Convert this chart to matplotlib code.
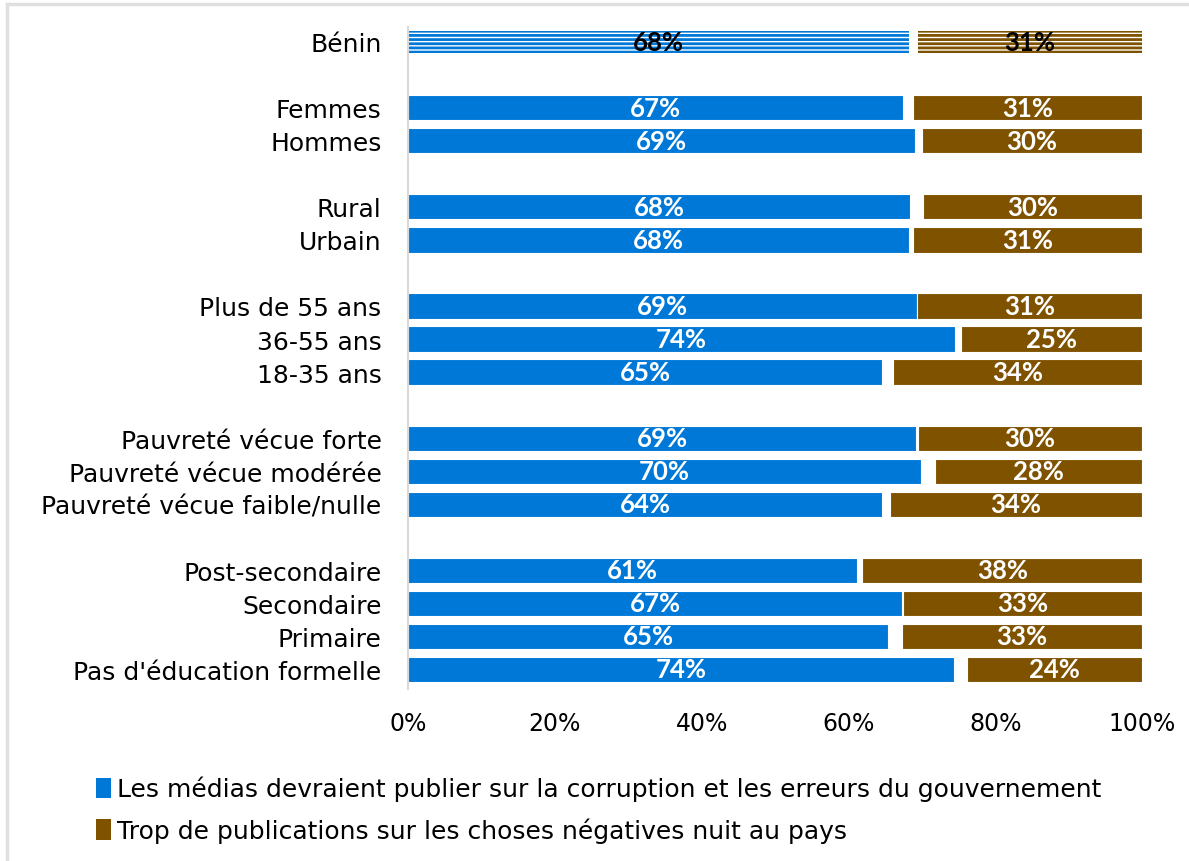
import numpy as np
import matplotlib
matplotlib.use("Agg")
import matplotlib.pyplot as plt
from matplotlib.patches import Patch
from matplotlib.lines import Line2D

# Données (en %)
categories = ["Bénin", "Femmes", "Hommes", "Rural", "Urbain",
              "Plus de 55 ans", "36-55 ans", "18-35 ans",
              "Pauvreté vécue forte", "Pauvreté vécue modérée", "Pauvreté vécue faible/nulle",
              "Post-secondaire", "Secondaire", "Primaire", "Pas d'éducation formelle"]
positions = [0, 2, 3, 5, 6, 8, 9, 10, 12, 13, 14, 16, 17, 18, 19]
medias = [68.3, 67.4, 69.1, 68.4, 68.3, 69.3, 74.5, 64.6, 69.2, 69.9, 64.6, 61.2, 67.3, 65.4, 74.4]
negatif = [30.5, 31.2, 30.0, 29.8, 31.2, 30.7, 24.7, 33.9, 30.5, 28.2, 34.4, 38.1, 32.6, 32.7, 23.8]
labels_medias = ["68%", "67%", "69%", "68%", "68%", "69%", "74%", "65%", "69%", "70%", "64%", "61%", "67%", "65%", "74%"]
labels_negatif = ["31%", "31%", "30%", "30%", "31%", "31%", "25%", "34%", "30%", "28%", "34%", "38%", "33%", "33%", "24%"]

legend_labels = ["Les médias devraient publier sur la corruption et les erreurs du gouvernement",
                 "Trop de publications sur les choses négatives nuit au pays"]

blue = "#0078D7"
brown = "#7F5200"

plt.rcParams['font.family'] = ['DejaVu Sans']
plt.rcParams['hatch.linewidth'] = 2.0
val_font = ['Lato', 'DejaVu Sans']

fig = plt.figure(figsize=(11.89, 8.62), dpi=100)
ax = fig.add_axes([408 / 1189, 1 - 690 / 862, 734 / 1189, 662 / 862])

h = 0.76
for i, (p, m, n) in enumerate(zip(positions, medias, negatif)):
    left_n = 100 - n
    if i == 0:
        # ligne Bénin : barres hachurées
        ax.barh(p, m, height=0.68, left=0, color="white", edgecolor=blue, hatch="----", linewidth=0)
        ax.barh(p, n, height=0.68, left=left_n, color="white", edgecolor=brown, hatch="----", linewidth=0)
        tc = "black"
    else:
        ax.barh(p, m, height=h, left=0, color=blue, edgecolor="white", linewidth=0.8)
        ax.barh(p, n, height=h, left=left_n, color=brown, edgecolor="white", linewidth=0.8)
        tc = "white"
    ax.text(m / 2, p, labels_medias[i], ha="center", va="center", color=tc,
            fontsize=18.5, fontweight="bold", family=val_font)
    ax.text(left_n + n / 2, p, labels_negatif[i], ha="center", va="center", color=tc,
            fontsize=18.5, fontweight="bold", family=val_font)

ax.set_xlim(0, 100)
ax.set_ylim(19.6, -0.45)
ax.set_yticks(positions)
ax.set_yticklabels(categories, fontsize=18)
ax.set_xticks(np.arange(0, 101, 20))
ax.set_xticklabels([f"{v}%" for v in range(0, 101, 20)], fontsize=17)
ax.tick_params(axis="both", length=0)
ax.tick_params(axis="x", pad=16)
ax.tick_params(axis="y", pad=19)
for s in ["top", "right", "bottom"]:
    ax.spines[s].set_visible(False)
ax.spines["left"].set_color("#d9d9d9")
ax.spines["left"].set_linewidth(1.5)

handles = [Patch(facecolor=blue), Patch(facecolor=brown)]
fig.legend(handles, legend_labels, loc="upper left", bbox_to_anchor=(86 / 1189, 1 - 767 / 862),
           frameon=False, fontsize=18, handlelength=0.6, handleheight=0.9,
           handletextpad=0.25, labelspacing=0.65, borderaxespad=0)

# cadre gris (haut et gauche)
fig.lines.append(Line2D([6.5 / 1189, 6.5 / 1189], [0, 1 - 5 / 862], transform=fig.transFigure,
                        color="#e0e0e0", linewidth=2.5))
fig.lines.append(Line2D([6.5 / 1189, 1], [1 - 5 / 862, 1 - 5 / 862], transform=fig.transFigure,
                        color="#e0e0e0", linewidth=2.5))

fig.savefig("out.png", dpi=100)
